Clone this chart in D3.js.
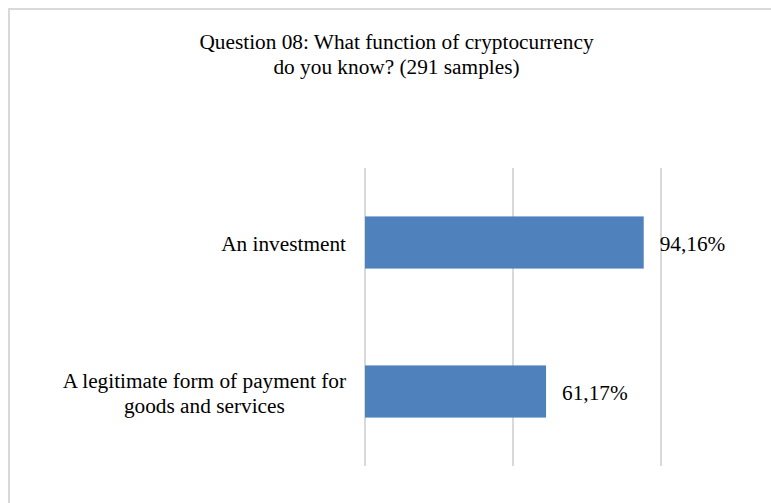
<!DOCTYPE html>
<html>
<head>
<meta charset="utf-8">
<script src="https://cdn.jsdelivr.net/npm/d3@7"></script>
<style>
html,body{margin:0;padding:0;background:#fff;}
svg{display:block;}
text{font-family:"Liberation Serif","Times New Roman",serif;fill:#000;}
</style>
</head>
<body>
<svg id="chart" width="771" height="503"></svg>
<script>
const titleLines = ["Question 08: What function of cryptocurrency", "do you know? (291 samples)"];
const categories = [["An investment"], ["A legitimate form of payment for", "goods and services"]];
const values = [0.9416, 0.6117];
const valueLabels = ["94,16%", "61,17%"];
const gridTicks = [0, 0.5, 1];

const FS = "21.3px";
const svg = d3.select("#chart");
// outer frame
svg.append("rect").attr("x", 9).attr("y", 9).attr("width", 780).attr("height", 520)
  .attr("fill", "none").attr("stroke", "#d9d9d9").attr("stroke-width", 2);

// title
svg.append("text").attr("x", 396.5).attr("y", 48.5).attr("text-anchor", "middle")
  .style("font-size", FS)
  .selectAll("tspan").data(titleLines).join("tspan")
  .attr("x", 396.5).attr("dy", (d, i) => i ? 25.5 : 0).text(d => d);

const x = d3.scaleLinear().domain([0, 1]).range([365, 661]);
const y = d3.scaleBand().domain(d3.range(values.length)).range([168, 466]).paddingInner(0.65).paddingOuter(0.325);

// gridlines
svg.append("g").selectAll("line").data(gridTicks).join("line")
  .attr("x1", d => x(d)).attr("x2", d => x(d)).attr("y1", 168).attr("y2", 466)
  .attr("stroke", "#d9d9d9").attr("stroke-width", 2);

// bars
svg.append("g").selectAll("rect").data(values).join("rect")
  .attr("x", x(0)).attr("y", (d, i) => y(i)).attr("width", d => x(d) - x(0)).attr("height", y.bandwidth())
  .attr("fill", "#4f81bd");

// value labels
svg.append("g").selectAll("text").data(values).join("text")
  .attr("x", d => x(d) + 16).attr("y", (d, i) => y(i) + y.bandwidth() / 2 + 8)
  .style("font-size", FS).text((d, i) => valueLabels[i]);

// category labels
const cat = svg.append("g").selectAll("text").data(categories).join("text")
  .attr("text-anchor", "middle").style("font-size", FS)
  .attr("transform", (d, i) => `translate(0,${y(i) + y.bandwidth() / 2 + 8.5})`);
cat.each(function(lines) {
  const t = d3.select(this);
  const n = lines.length;
  const lh = 25;
  const ts = t.selectAll("tspan").data(lines).join("tspan")
    .attr("x", 0)
    .attr("dy", (l, j) => j === 0 ? (-(n - 1) * lh / 2) : lh)
    .text(l => l);
  let w = 0;
  ts.each(function() { w = Math.max(w, this.getComputedTextLength()); });
  ts.attr("x", 346 - w / 2);
});
</script>
</body>
</html>
